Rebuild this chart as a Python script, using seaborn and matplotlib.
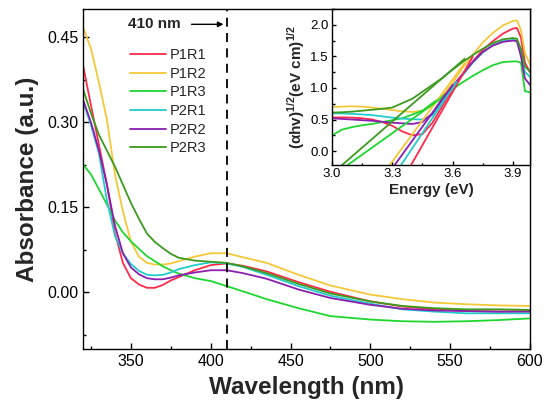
import numpy as np
import pandas as pd
import matplotlib
matplotlib.use("Agg")
import matplotlib.pyplot as plt
from matplotlib.ticker import MultipleLocator
import seaborn as sns

# ---- main spectra (wavelength in nm, absorbance in a.u.) ----
wavelength = [320, 325, 330, 335, 340, 345, 350, 355, 360, 365, 370, 375, 380,
              390, 400, 410, 420, 435, 455, 475, 500, 520, 540, 560, 580, 600]

p1r1 = [0.401, 0.330, 0.260, 0.190, 0.105, 0.052, 0.025, 0.014, 0.008, 0.008, 0.013, 0.021, 0.027,
        0.039, 0.048, 0.051, 0.047, 0.037, 0.018, 0.001, -0.016, -0.025, -0.030, -0.033, -0.034, -0.033]
p1r2 = [0.468, 0.430, 0.370, 0.305, 0.208, 0.143, 0.090, 0.063, 0.052, 0.049, 0.049, 0.051, 0.055,
        0.063, 0.069, 0.069, 0.062, 0.052, 0.031, 0.012, -0.004, -0.012, -0.018, -0.021, -0.023, -0.024]
p1r3 = [0.226, 0.208, 0.182, 0.155, 0.127, 0.106, 0.090, 0.077, 0.064, 0.055, 0.046, 0.039, 0.033,
        0.025, 0.020, 0.011, 0.002, -0.012, -0.028, -0.042, -0.048, -0.051, -0.052, -0.051, -0.049, -0.046]
p2r1 = [0.337, 0.295, 0.245, 0.162, 0.100, 0.069, 0.050, 0.038, 0.031, 0.030, 0.031, 0.035, 0.041,
        0.048, 0.053, 0.051, 0.045, 0.031, 0.011, -0.006, -0.020, -0.030, -0.034, -0.037, -0.037, -0.037]
p2r2 = [0.340, 0.300, 0.250, 0.190, 0.118, 0.069, 0.044, 0.032, 0.025, 0.023, 0.023, 0.026, 0.030,
        0.035, 0.039, 0.039, 0.034, 0.024, 0.005, -0.010, -0.022, -0.029, -0.032, -0.033, -0.034, -0.034]
p2r3 = [0.359, 0.316, 0.278, 0.250, 0.222, 0.190, 0.158, 0.130, 0.104, 0.089, 0.078, 0.068, 0.061,
        0.056, 0.054, 0.052, 0.046, 0.034, 0.015, -0.002, -0.016, -0.024, -0.028, -0.030, -0.030, -0.031]

# ---- inset Tauc plot ----
energy = [3.0, 3.05, 3.1, 3.15, 3.2, 3.25, 3.3, 3.35, 3.4, 3.45, 3.5, 3.55,
          3.6, 3.65, 3.7, 3.75, 3.8, 3.85, 3.9, 3.92, 3.94, 3.96, 3.985]

tauc_p1r1 = [0.53, 0.535, 0.53, 0.52, 0.50, 0.46, 0.40, 0.31, 0.25, 0.27, 0.45, 0.72,
             0.98, 1.22, 1.42, 1.60, 1.74, 1.86, 1.94, 1.95, 1.80, 1.40, 1.25]
tauc_p1r2 = [0.70, 0.705, 0.71, 0.705, 0.69, 0.67, 0.65, 0.63, 0.62, 0.64, 0.72, 0.88,
             1.08, 1.32, 1.52, 1.72, 1.87, 1.99, 2.06, 2.07, 1.92, 1.55, 1.38]
tauc_p1r3 = [0.25, 0.34, 0.38, 0.41, 0.43, 0.46, 0.49, 0.52, 0.58, 0.64, 0.76, 0.87,
             0.98, 1.09, 1.19, 1.28, 1.36, 1.41, 1.42, 1.42, 1.40, 0.95, 0.93]
tauc_p2r1 = [0.60, 0.595, 0.59, 0.58, 0.57, 0.55, 0.53, 0.515, 0.505, 0.50, 0.57, 0.80,
             1.00, 1.20, 1.40, 1.56, 1.68, 1.74, 1.76, 1.75, 1.55, 1.25, 1.18]
tauc_p2r2 = [0.52, 0.51, 0.50, 0.49, 0.48, 0.465, 0.45, 0.44, 0.43, 0.46, 0.60, 0.84,
             1.03, 1.22, 1.41, 1.57, 1.67, 1.73, 1.75, 1.74, 1.50, 1.15, 1.05]
tauc_p2r3 = [0.61, 0.615, 0.625, 0.64, 0.655, 0.67, 0.69, 0.76, 0.83, 0.94, 1.05, 1.16,
             1.29, 1.41, 1.52, 1.62, 1.71, 1.77, 1.79, 1.78, 1.62, 1.34, 1.26]

# linear fits: band gap (x-intercept), slope and the energy where the fit stops
band_gap = [3.433, 3.338, 3.175, 3.390, 3.362, 3.130]
fit_slope = [5.6, 4.33, 2.27, 4.77, 4.4, 2.76]
fit_end = [3.70, 3.66, 3.56, 3.62, 3.60, 3.66]

samples = ["P1R1", "P1R2", "P1R3", "P2R1", "P2R2", "P2R3"]
colors = ["#FF2A4A", "#F5C83A", "#1ED62E", "#22CCCC", "#8B1FB0", "#3C9A1E"]

spectra = [p1r1, p1r2, p1r3, p2r1, p2r2, p2r3]
taucs = [tauc_p1r1, tauc_p1r2, tauc_p1r3, tauc_p2r1, tauc_p2r2, tauc_p2r3]

df_abs = pd.concat([pd.DataFrame({"wl": wavelength, "abs": s, "sample": n})
                    for n, s in zip(samples, spectra)], ignore_index=True)
df_tauc = pd.concat([pd.DataFrame({"E": energy, "v": t, "sample": n})
                     for n, t in zip(samples, taucs)], ignore_index=True)
fit_rows = []
for n, eg, k, e1 in zip(samples, band_gap, fit_slope, fit_end):
    e0 = eg - 0.3 / k
    fit_rows.append(pd.DataFrame({"E": [e0, e1], "v": [k * (e0 - eg), k * (e1 - eg)], "sample": n}))
df_fit = pd.concat(fit_rows, ignore_index=True)

sns.set_theme(style="ticks")
plt.rcParams["font.family"] = ["Liberation Sans", "DejaVu Sans"]
plt.rcParams["mathtext.fontset"] = "custom"
plt.rcParams["mathtext.rm"] = "Liberation Sans"
plt.rcParams["mathtext.bf"] = "Liberation Sans:bold"
plt.rcParams["axes.edgecolor"] = "black"
plt.rcParams["axes.linewidth"] = 1.0

palette = dict(zip(samples, colors))

fig = plt.figure(figsize=(5.5, 4.12), dpi=100)
ax = fig.add_axes([0.1509, 0.1529, 0.8127, 0.8252])
ins = fig.add_axes([0.6036, 0.5995, 0.3600, 0.3786])

sns.lineplot(data=df_abs, x="wl", y="abs", hue="sample", palette=palette,
             linewidth=1.3, ax=ax)
ax.axvline(410, color="black", ls=(0, (5, 3.5)), lw=1.3)
ax.text(348, 0.473, "410 nm", fontsize=11, fontweight="bold", ha="left", va="center")
ax.annotate("", xy=(408, 0.473), xytext=(388, 0.473),
            arrowprops=dict(arrowstyle="-|>", color="black", lw=1, mutation_scale=8,
                            shrinkA=0, shrinkB=0))

ax.set_xlim(320, 600)
ax.set_ylim(-0.10, 0.50)
ax.set_xticks([350, 400, 450, 500, 550, 600])
ax.set_yticks([0.00, 0.15, 0.30, 0.45])
ax.set_yticklabels(["0.00", "0.15", "0.30", "0.45"])
ax.xaxis.set_minor_locator(MultipleLocator(25))
ax.yaxis.set_minor_locator(MultipleLocator(0.075))
ax.tick_params(which="both", direction="in", labelsize=11.5, colors="black", width=1)
ax.tick_params(which="major", length=4)
ax.tick_params(which="minor", length=2.5)
ax.set_xlabel("Wavelength (nm)", fontsize=17.5, fontweight="bold", labelpad=5)
ax.set_ylabel("Absorbance (a.u.)", fontsize=17.5, fontweight="bold", labelpad=6)

sns.move_legend(ax, "upper left", bbox_to_anchor=(0.105, 0.885), frameon=False,
                title=None, fontsize=10.5, handlelength=2.5, handletextpad=0.2,
                labelspacing=0.32, borderpad=0, borderaxespad=0)

# inset
sns.lineplot(data=df_tauc, x="E", y="v", hue="sample", palette=palette,
             linewidth=1.3, legend=False, ax=ins)
sns.lineplot(data=df_fit, x="E", y="v", hue="sample", palette=palette,
             linewidth=1.3, legend=False, ax=ins)
ins.set_facecolor("white")
ins.set_xlim(3.0, 3.985)
ins.set_ylim(-0.22, 2.25)
ins.set_xticks([3.0, 3.3, 3.6, 3.9])
ins.set_yticks([0.0, 0.5, 1.0, 1.5, 2.0])
ins.xaxis.set_minor_locator(MultipleLocator(0.15))
ins.yaxis.set_minor_locator(MultipleLocator(0.25))
ins.tick_params(which="both", direction="in", labelsize=9.5, colors="black", width=1, pad=2.5)
ins.tick_params(which="major", length=3)
ins.tick_params(which="minor", length=1.8)
ins.set_xlabel("Energy (eV)", fontsize=11, fontweight="bold", labelpad=2)
ins.set_ylabel("(αhv)$^{\\mathbf{1/2}}$(eV cm)$^{\\mathbf{1/2}}$", fontsize=11,
               fontweight="bold", labelpad=2)

fig.savefig("out.png", dpi=100)
